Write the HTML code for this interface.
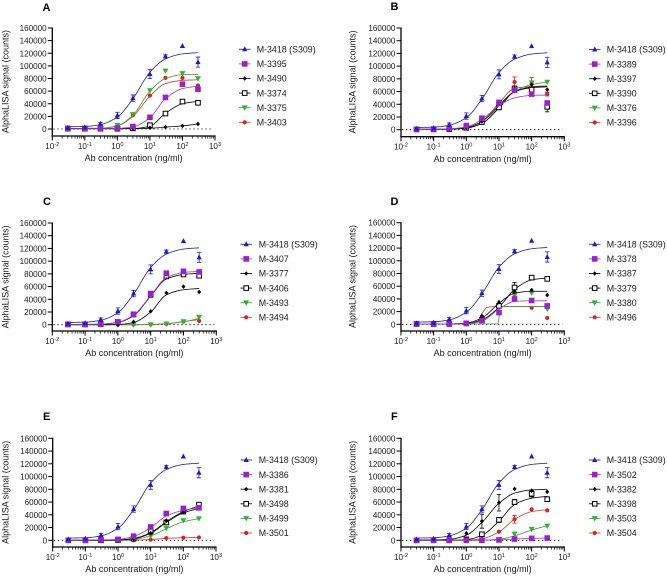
<!DOCTYPE html>
<html lang="en">
<head>
<meta charset="utf-8">
<title>AlphaLISA signal by antibody concentration</title>
<style>
html,body{margin:0;padding:0;background:#fff;width:667px;height:576px;overflow:hidden}
svg{display:block;font-family:"Liberation Sans",sans-serif;fill:#1a1a1a;filter:blur(0.3px)}
</style>
</head>
<body>
<svg id="fig" xmlns="http://www.w3.org/2000/svg" width="667" height="576" viewBox="0 0 667 576"></svg>
<script>
// Shared axis data
const doses = [0.03, 0.1, 0.3, 1, 3, 10, 30, 100, 300];
const yTickValues = [0, 20000, 40000, 60000, 80000, 100000, 120000, 140000, 160000];
const xTickExponents = [-2, -1, 0, 1, 2, 3];

// Measured points, fitted-curve readings and error bars (counts)
const m3418Values = [1500, 2500, 8000, 21500, 49000, 87000, 115000, 131500, 106000];
const m3418Fit = [3500, 4000, 7000, 19000, 48000, 90000, 111000, 119000, 121000];
const m3418Err = [0, 0, 2500, 5000, 5000, 7000, 2500, 0, 8000];

// Panel A
const m3395Values = [1000, 1000, 1000, 1500, 4000, 18500, 50000, 71000, 63000];
const m3395Fit = [1000, 1000, 1000, 1200, 3500, 18000, 48000, 64000, 68000];
const m3490Values = [500, 500, 500, 500, 500, 2000, 3000, 5000, 8000];
const m3490Fit = [500, 500, 500, 500, 600, 1200, 3000, 5000, 8000];
const m3374Values = [500, 500, 500, 500, 1000, 6000, 24500, 43500, 41500];
const m3374Fit = [500, 500, 500, 500, 800, 4500, 25000, 40000, 44000];
const m3375Values = [500, 500, 500, 6000, 23000, 61000, 92000, 88000, 80000];
const m3375Fit = [1000, 1000, 1200, 5000, 22000, 60000, 80000, 86000, 86500];
const m3403Values = [1000, 1000, 1000, 1000, 22000, 53000, 81000, 81000, 69000];
const m3403Fit = [1000, 1000, 1200, 5000, 20000, 52000, 72000, 77000, 78000];

// Panel B
const m3389Values = [500, 1000, 1500, 6500, 18000, 43000, 62000, 56000, 42000];
const m3389Fit = [1000, 1000, 1500, 4500, 16000, 38000, 50000, 54000, 54500];
const m3397Values = [500, 500, 800, 3000, 13000, 40000, 65000, 71000, 63000];
const m3397Fit = [1000, 1000, 1200, 3500, 13000, 38000, 60000, 67000, 68000];
const m3390Values = [500, 500, 800, 3000, 12000, 35000, 65000, 63000, 36000];
const m3390Fit = [500, 500, 800, 2500, 10000, 34000, 60000, 66000, 67500];
const m3390Err = [0, 0, 0, 0, 0, 2000, 3000, 4000, 8000];
const m3376Values = [500, 500, 800, 3000, 12000, 38000, 63000, 74000, 75000];
const m3376Fit = [500, 500, 800, 2500, 10000, 36000, 60000, 71000, 75000];
const m3396Values = [500, 500, 800, 3000, 13000, 41000, 75000, 72000, 56000];
const m3396Fit = [500, 500, 800, 3000, 13000, 42000, 65000, 68000, 69000];
const m3396Err = [0, 0, 0, 0, 0, 2000, 8000, 10000, 3000];

// Panel C
const m3407Values = [500, 500, 1000, 4500, 16500, 49000, 81000, 84000, 83000];
const m3407Fit = [500, 500, 1000, 4000, 15000, 46000, 74000, 82000, 84000];
const m3377Values = [0, 0, 0, 0, 4500, 21000, 50000, 60000, 51500];
const m3377Fit = [0, 0, 0, 300, 3500, 20000, 47000, 55000, 57000];
const m3406Values = [500, 500, 800, 4000, 16000, 47000, 76000, 79000, 77000];
const m3406Fit = [500, 500, 800, 3500, 14000, 45000, 72000, 79000, 81000];
const m3493Values = [0, 0, 0, 0, 0, 0, 1500, 5000, 12000];
const m3493Fit = [0, 0, 0, 0, 0, 500, 1500, 4500, 10000];
const m3494Values = [0, 0, 0, 0, 0, 500, 1000, 5000, 6000];
const m3494Fit = [0, 0, 0, 0, 0, 300, 1500, 5000, 8000];

// Panel D
const m3378Values = [500, 500, 500, 1500, 6000, 18500, 40000, 37500, 29000];
const m3378Fit = [500, 500, 500, 1000, 5000, 24000, 36000, 37000, 37000];
const m3387Values = [500, 500, 500, 2000, 13000, 35000, 52000, 54000, 46000];
const m3387Fit = [500, 500, 600, 2000, 10000, 33000, 49000, 52000, 52000];
const m3379Values = [500, 500, 500, 1500, 7000, 29000, 58000, 73500, 71500];
const m3379Fit = [500, 500, 500, 1500, 7000, 27000, 55000, 70000, 73000];
const m3379Err = [0, 0, 0, 0, 0, 3000, 8000, 0, 0];
const m3380Values = [500, 500, 500, 1000, 6000, 29000, 47000, 49000, 24000];
const m3380FitDoses = [0.03, 0.1, 1, 9, 9.6, 11, 30, 100, 300];
const m3380Fit = [500, 500, 500, 500, 4000, 27500, 28000, 28000, 28000];
const m3496Values = [0, 0, 0, 1500, 12000, 28000, 47000, 26000, 10000];
const m3496FitDoses = [0.03, 0.3, 1, 2, 3.5, 4.5, 10, 100, 300];
const m3496Fit = [500, 500, 1000, 2500, 22000, 27000, 28000, 28000, 28000];

// Panel E
const m3386Values = [0, 0, 500, 1500, 6500, 21000, 42000, 50000, 51000];
const m3386Fit = [0, 0, 500, 1500, 6000, 20000, 38000, 47000, 51000];
const m3381Values = [0, 0, 0, 500, 2000, 11000, 31000, 44000, 50000];
const m3381Fit = [0, 0, 0, 500, 2500, 11000, 28000, 43000, 50000];
const m3498Values = [0, 0, 0, 500, 2500, 14000, 28000, 45000, 56000];
const m3498Fit = [0, 0, 0, 500, 3000, 12000, 29000, 45000, 54000];
const m3499Values = [0, 0, 0, 300, 1500, 7000, 19000, 31000, 34000];
const m3499Fit = [0, 0, 0, 300, 1500, 7000, 18000, 29000, 34000];
const m3501Values = [0, 0, 0, 0, 0, 1000, 3500, 4000, 4500];
const m3501Fit = [0, 0, 0, 0, 300, 1200, 3000, 4000, 4500];

// Panel F
const m3502Values = [0, 0, 0, 0, 0, 500, 2000, 3000, 3500];
const m3502Fit = [0, 0, 0, 0, 200, 700, 2000, 3000, 3500];
const m3382Values = [500, 500, 1000, 11000, 30000, 59000, 80500, 78000, 76000];
const m3382Fit = [500, 600, 1500, 8000, 28000, 58000, 74000, 79000, 80000];
const m3382Err = [0, 0, 0, 0, 11000, 13000, 0, 0, 0];
const m3398Values = [0, 0, 0, 1500, 9500, 32000, 60000, 73000, 64500];
const m3398Fit = [0, 0, 0, 1000, 8000, 30000, 56000, 66000, 69000];
const m3398Err = [0, 0, 0, 0, 0, 4000, 4000, 5000, 0];
const m3503Values = [0, 0, 0, 0, 0, 1000, 10000, 17500, 22500];
const m3503Fit = [0, 0, 0, 0, 200, 1500, 7000, 16000, 23000];
const m3504Values = [0, 0, 0, 0, 2000, 13500, 33000, 48500, 47000];
const m3504Fit = [0, 0, 0, 300, 2500, 13000, 33000, 45000, 48000];
const m3504Err = [0, 0, 0, 0, 0, 0, 6000, 0, 0];

const noErr = [0, 0, 0, 0, 0, 0, 0, 0, 0];

// Series per panel, in legend order
const s309 = {name: 'M-3418 (S309)', kind: 'tri', values: m3418Values, fit: m3418Fit, err: m3418Err};
const panelASeries = [s309,
  {name: 'M-3395', kind: 'square', values: m3395Values, fit: m3395Fit},
  {name: 'M-3490', kind: 'diamond', values: m3490Values, fit: m3490Fit},
  {name: 'M-3374', kind: 'open', values: m3374Values, fit: m3374Fit},
  {name: 'M-3375', kind: 'down', values: m3375Values, fit: m3375Fit},
  {name: 'M-3403', kind: 'circle', values: m3403Values, fit: m3403Fit}];
const panelBSeries = [s309,
  {name: 'M-3389', kind: 'square', values: m3389Values, fit: m3389Fit},
  {name: 'M-3397', kind: 'diamond', values: m3397Values, fit: m3397Fit},
  {name: 'M-3390', kind: 'open', values: m3390Values, fit: m3390Fit, err: m3390Err},
  {name: 'M-3376', kind: 'down', values: m3376Values, fit: m3376Fit},
  {name: 'M-3396', kind: 'circle', values: m3396Values, fit: m3396Fit, err: m3396Err}];
const panelCSeries = [s309,
  {name: 'M-3407', kind: 'square', values: m3407Values, fit: m3407Fit},
  {name: 'M-3377', kind: 'diamond', values: m3377Values, fit: m3377Fit},
  {name: 'M-3406', kind: 'open', values: m3406Values, fit: m3406Fit},
  {name: 'M-3493', kind: 'down', values: m3493Values, fit: m3493Fit},
  {name: 'M-3494', kind: 'circle', values: m3494Values, fit: m3494Fit}];
const panelDSeries = [s309,
  {name: 'M-3378', kind: 'square', values: m3378Values, fit: m3378Fit},
  {name: 'M-3387', kind: 'diamond', values: m3387Values, fit: m3387Fit},
  {name: 'M-3379', kind: 'open', values: m3379Values, fit: m3379Fit, err: m3379Err},
  {name: 'M-3380', kind: 'down', values: m3380Values, fit: m3380Fit, fitDoses: m3380FitDoses},
  {name: 'M-3496', kind: 'circle', values: m3496Values, fit: m3496Fit, fitDoses: m3496FitDoses}];
const panelESeries = [s309,
  {name: 'M-3386', kind: 'square', values: m3386Values, fit: m3386Fit},
  {name: 'M-3381', kind: 'diamond', values: m3381Values, fit: m3381Fit},
  {name: 'M-3498', kind: 'open', values: m3498Values, fit: m3498Fit},
  {name: 'M-3499', kind: 'down', values: m3499Values, fit: m3499Fit},
  {name: 'M-3501', kind: 'circle', values: m3501Values, fit: m3501Fit}];
const panelFSeries = [s309,
  {name: 'M-3502', kind: 'square', values: m3502Values, fit: m3502Fit},
  {name: 'M-3382', kind: 'diamond', values: m3382Values, fit: m3382Fit, err: m3382Err},
  {name: 'M-3398', kind: 'open', values: m3398Values, fit: m3398Fit, err: m3398Err},
  {name: 'M-3503', kind: 'down', values: m3503Values, fit: m3503Fit},
  {name: 'M-3504', kind: 'circle', values: m3504Values, fit: m3504Fit, err: m3504Err}];

const COLORS = {tri: '#1b1bc8', square: '#9a1fd0', diamond: '#000000', open: '#000000', down: '#2db52d', circle: '#e0201c'};
const LINE_COLORS = {tri: '#2a2ab8', square: '#a53fc8', diamond: '#111111', open: '#111111', down: '#3aa83a', circle: '#d8403c'};
const NS = 'http://www.w3.org/2000/svg';
const fig = document.getElementById('fig');

function mk(parent, tag, attrs) {
  const el = document.createElementNS(NS, tag);
  for (const k in attrs) el.setAttribute(k, attrs[k]);
  parent.appendChild(el);
  return el;
}

function monotonePath(xs, ys, sx, sy) {
  const n = xs.length, d = [], m = [];
  for (let i = 0; i < n - 1; i++) d.push((ys[i + 1] - ys[i]) / (xs[i + 1] - xs[i]));
  m[0] = d[0]; m[n - 1] = d[n - 2];
  for (let i = 1; i < n - 1; i++) m[i] = d[i - 1] * d[i] <= 0 ? 0 : 2 * d[i - 1] * d[i] / (d[i - 1] + d[i]);
  let path = 'M' + sx(xs[0]).toFixed(2) + ' ' + sy(ys[0]).toFixed(2);
  for (let i = 0; i < n - 1; i++) {
    const h = xs[i + 1] - xs[i];
    for (let j = 1; j <= 10; j++) {
      const t = j / 10, t2 = t * t, t3 = t2 * t;
      const v = (2 * t3 - 3 * t2 + 1) * ys[i] + (t3 - 2 * t2 + t) * h * m[i] + (-2 * t3 + 3 * t2) * ys[i + 1] + (t3 - t2) * h * m[i + 1];
      path += 'L' + sx(xs[i] + t * h).toFixed(2) + ' ' + sy(v).toFixed(2);
    }
  }
  return path;
}

function marker(parent, kind, x, y) {
  const c = COLORS[kind];
  let el;
  if (kind === 'tri') {
    el = mk(parent, 'polygon', {points: [x, y - 3, x + 2.6, y + 2, x - 2.6, y + 2].join(' '), fill: c});
  } else if (kind === 'down') {
    el = mk(parent, 'polygon', {points: [x - 3, y - 2.3, x + 3, y - 2.3, x, y + 3].join(' '), fill: c});
  } else if (kind === 'square') {
    el = mk(parent, 'rect', {x: x - 2.8, y: y - 2.8, width: 5.6, height: 5.6, fill: c});
  } else if (kind === 'open') {
    el = mk(parent, 'rect', {x: x - 2.3, y: y - 2.3, width: 4.6, height: 4.6, fill: '#fff', stroke: '#000', 'stroke-width': 1});
  } else if (kind === 'diamond') {
    el = mk(parent, 'polygon', {points: [x, y - 2.3, x + 2, y, x, y + 2.3, x - 2, y].join(' '), fill: c});
  } else {
    el = mk(parent, 'circle', {cx: x, cy: y, r: 2.1, fill: c});
  }
  return el;
}

function drawPanel(letter, series, g) {
  const root = mk(fig, 'g', {});
  
  

  const sx = lg => g.x0 + (lg + 2) * (g.x1 - g.x0) / 5;
  const sy = v => g.y0 - v * (g.y0 - g.yTop) / 160000;

  const title = mk(root, 'text', {x: g.lx, y: g.ly, 'font-size': 11, 'font-weight': 'bold', fill: '#000'});
  title.textContent = letter;
  
  

  // Axes
  const axes = mk(root, 'g', {stroke: '#000', fill: 'none'});
  
  
  const yAxis = mk(axes, 'line', {x1: g.x0, x2: g.x0, y1: g.yTop - 0.5, y2: g.axisY + 0.7, 'stroke-width': 1.3});
  
  
  const xAxis = mk(axes, 'line', {x1: g.x0 - 0.6, x2: g.x1 + 0.6, y1: g.axisY, y2: g.axisY, 'stroke-width': 1.3});
  
  

  yTickValues.forEach(v => {
    const t = mk(axes, 'line', {x1: g.x0 - 4.5, x2: g.x0, y1: sy(v), y2: sy(v), 'stroke-width': 1});
    
    
    const lab = mk(root, 'text', {x: g.x0 - 5.6, y: sy(v) + 3, 'font-size': 8.1, 'text-anchor': 'end'});
    lab.textContent = String(v);
    
    
  });

  xTickExponents.forEach((e, idx) => {
    const t = mk(axes, 'line', {x1: sx(e), x2: sx(e), y1: g.axisY, y2: g.axisY + 4.5, 'stroke-width': 1});
    
    
    if (idx < xTickExponents.length - 1) {
      for (let m = 2; m < 10; m++) {
        const mt = mk(axes, 'line', {x1: sx(e + Math.log10(m)), x2: sx(e + Math.log10(m)), y1: g.axisY, y2: g.axisY + 2.6, 'stroke-width': 0.7});
        
        
      }
    }
    const lab = mk(root, 'text', {x: sx(e), y: g.axisY + 13, 'font-size': 8.1, 'text-anchor': 'middle'});
    
    
    const base = mk(lab, 'tspan', {});
    base.textContent = '10';
    const sup = mk(lab, 'tspan', {dy: -3, 'font-size': 5.6});
    sup.textContent = String(e);
  });

  const xTitle = mk(root, 'text', {x: (g.x0 + g.x1) / 2, y: g.axisY + 25.2, 'font-size': 9, 'text-anchor': 'middle'});
  xTitle.textContent = 'Ab concentration (ng/ml)';
  
  

  const ty = (g.yTop + g.y0) / 2 + 3;
  const yTitle = mk(root, 'text', {transform: 'translate(' + g.ytx + ' ' + ty + ') rotate(-90)', 'font-size': 9, 'text-anchor': 'middle'});
  yTitle.textContent = 'AlphaLISA signal (counts)';
  
  

  const zero = mk(root, 'line', {x1: g.x0 + 1, x2: g.x1 - 2, y1: sy(0), y2: sy(0), stroke: '#000', 'stroke-width': 0.8, 'stroke-dasharray': '1.4 2.6'});
  
  

  // Series: last legend entry painted first, so the reference's stacking is kept
  series.slice().reverse().forEach(s => {
    const sg = mk(root, 'g', {});
    
    
    const fd = (s.fitDoses || doses).map(Math.log10);
    const curve = mk(sg, 'path', {d: monotonePath(fd, s.fit, sx, sy), fill: 'none', stroke: LINE_COLORS[s.kind], 'stroke-width': 0.85});
    
    
    const errs = s.err || noErr;
    doses.forEach((d, i) => {
      const px = sx(Math.log10(d));
      if (errs[i] > 0) {
        const eb = mk(sg, 'path', {
          d: 'M' + px + ' ' + sy(s.values[i] - errs[i]) + 'V' + sy(s.values[i] + errs[i]) +
             'M' + (px - 2.2) + ' ' + sy(s.values[i] - errs[i]) + 'h4.4' +
             'M' + (px - 2.2) + ' ' + sy(s.values[i] + errs[i]) + 'h4.4',
          fill: 'none', stroke: COLORS[s.kind], 'stroke-width': 0.8});
        
        
      }
      const pt = marker(sg, s.kind, px, sy(s.values[i]));
      
      
    });
  });

  // Legend
  const lg = mk(root, 'g', {});
  
  
  series.forEach((s, i) => {
    const y = g.legY + i * 14.6;
    const entry = mk(lg, 'g', {});
    
    
    mk(entry, 'line', {x1: g.legX, x2: g.legX + 11.5, y1: y, y2: y, stroke: LINE_COLORS[s.kind], 'stroke-width': 0.9});
    marker(entry, s.kind, g.legX + 5.7, y);
    const t = mk(entry, 'text', {x: g.legText, y: y + 3.2, 'font-size': 8.85});
    t.textContent = s.name;
  });
}

drawPanel('A', panelASeries, {x0: 52.3, x1: 215, yTop: 28, y0: 129, axisY: 136, ytx: 8.3, lx: 42.5, ly: 10.8, legX: 239, legText: 256.7, legY: 49.3});
drawPanel('B', panelBSeries, {x0: 401, x1: 564.3, yTop: 28, y0: 129.7, axisY: 136.7, ytx: 355.3, lx: 390.5, ly: 10.2, legX: 589, legText: 606.7, legY: 49.5});
drawPanel('C', panelCSeries, {x0: 52.3, x1: 216.3, yTop: 223, y0: 324.7, axisY: 331, ytx: 8.3, lx: 43, ly: 205, legX: 240.5, legText: 258.7, legY: 244.3});
drawPanel('D', panelDSeries, {x0: 401, x1: 564.3, yTop: 222.7, y0: 324.3, axisY: 331, ytx: 355.3, lx: 390.5, ly: 205, legX: 589, legText: 606.7, legY: 244.3});
drawPanel('E', panelESeries, {x0: 52.7, x1: 216, yTop: 438.3, y0: 540.3, axisY: 547, ytx: 8.3, lx: 43, ly: 420, legX: 240.5, legText: 258.7, legY: 460});
drawPanel('F', panelFSeries, {x0: 401, x1: 564.3, yTop: 438.3, y0: 540.3, axisY: 547, ytx: 355.3, lx: 391, ly: 420, legX: 589, legText: 606.7, legY: 460});
</script>
</body>
</html>
